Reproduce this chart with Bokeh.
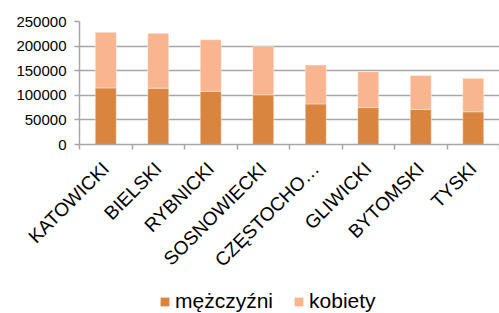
import numpy as np
from math import pi
from bokeh.plotting import figure
from bokeh.layouts import column
from bokeh.models import ColumnDataSource, Range1d, FixedTicker, Legend, LegendItem
from bokeh.embed import file_html
from bokeh.resources import INLINE

categories = ["KATOWICKI", "BIELSKI", "RYBNICKI", "SOSNOWIECKI", "CZĘSTOCHO…",
              "GLIWICKI", "BYTOMSKI", "TYSKI"]
men = [115000, 114500, 108000, 101000, 82500, 75000, 71000, 66500]
women = [113000, 111500, 105000, 98000, 79000, 73000, 69000, 68000]
y_ticks = [0, 50000, 100000, 150000, 200000, 250000]
series_names = ["mężczyźni", "kobiety"]

n = len(categories)
x = np.arange(n) + 0.5
men_arr = np.array(men)
tot_arr = men_arr + np.array(women)

src = ColumnDataSource(dict(x=x, men=men_arr, tot=tot_arr, zero=np.zeros(n)))

FONT = "Liberation Sans"
MEN_C = "#D9843F"
WOMEN_C = "#F8B590"
GRID = "#A6A6A6"

p = figure(width=499, height=280, output_backend="svg", toolbar_location=None,
           x_range=Range1d(0, n), y_range=Range1d(0, 250000),
           min_border_left=79, min_border_top=21, min_border_right=0,
           min_border_bottom=134)
p.outline_line_color = None

r1 = p.vbar(x="x", bottom="zero", top="men", width=0.4, source=src,
            fill_color=MEN_C, line_color="white", line_alpha=0.5, line_width=0.8)
r2 = p.vbar(x="x", bottom="men", top="tot", width=0.4, source=src,
            fill_color=WOMEN_C, line_color="white", line_alpha=0.5, line_width=0.8)

# y axis
p.yaxis.ticker = FixedTicker(ticks=y_ticks)
p.yaxis.formatter.use_scientific = False
p.yaxis.major_label_text_font = FONT
p.yaxis.major_label_text_font_size = "15px"
p.yaxis.major_label_text_color = "black"
p.yaxis.axis_line_color = GRID
p.yaxis.axis_line_width = 1.5
p.yaxis.major_tick_line_color = GRID
p.yaxis.major_tick_line_width = 1.5
p.yaxis.major_tick_out = 5
p.yaxis.major_tick_in = 0
p.yaxis.minor_tick_line_color = None
p.yaxis.major_label_standoff = 8

# x axis: labels at centers, ticks at boundaries
p.xaxis.ticker = FixedTicker(ticks=list(x), minor_ticks=list(np.arange(n + 1)))
p.xaxis.major_label_overrides = {float(xi): c for xi, c in zip(x, categories)}
p.xaxis.major_label_orientation = pi / 4
p.xaxis.major_label_text_font = FONT
p.xaxis.major_label_text_font_size = "19px"
p.xaxis.major_label_text_color = "black"
p.xaxis.major_tick_line_color = None
p.xaxis.minor_tick_line_color = GRID
p.xaxis.minor_tick_line_width = 1.5
p.xaxis.minor_tick_out = 5
p.xaxis.minor_tick_in = 0
p.xaxis.axis_line_color = GRID
p.xaxis.axis_line_width = 1.5
p.xaxis.major_label_standoff = 15

p.xgrid.grid_line_color = None
p.ygrid.ticker = FixedTicker(ticks=y_ticks)
p.ygrid.grid_line_color = GRID
p.ygrid.grid_line_width = 1.5

# legend strip (renderers placed outside the visible range)
lg = figure(width=499, height=33, output_backend="svg", toolbar_location=None,
            x_range=Range1d(0, 1), y_range=Range1d(0, 1),
            min_border_left=0, min_border_top=0, min_border_right=0,
            min_border_bottom=0, x_axis_location=None, y_axis_location=None)
lg.outline_line_color = None
lg.grid.visible = False
d1 = lg.vbar(x=[5], top=[5], bottom=[4], width=0.4, fill_color=MEN_C, line_color=None)
d2 = lg.vbar(x=[5], top=[5], bottom=[4], width=0.4, fill_color=WOMEN_C, line_color=None)

legend = Legend(items=[LegendItem(label=series_names[0], renderers=[d1]),
                       LegendItem(label=series_names[1], renderers=[d2])],
                orientation="horizontal", location=(80, 0))
legend.label_text_font = FONT
legend.label_text_font_size = "21px"
legend.label_text_color = "black"
legend.glyph_width = 11
legend.glyph_height = 11
legend.label_standoff = 5
legend.spacing = 20
legend.padding = 0
legend.margin = 0
legend.border_line_color = None
legend.background_fill_alpha = 0
lg.add_layout(legend, "center")

layout = column(p, lg, spacing=0)
open("out.html", "w").write(file_html(layout, INLINE))
